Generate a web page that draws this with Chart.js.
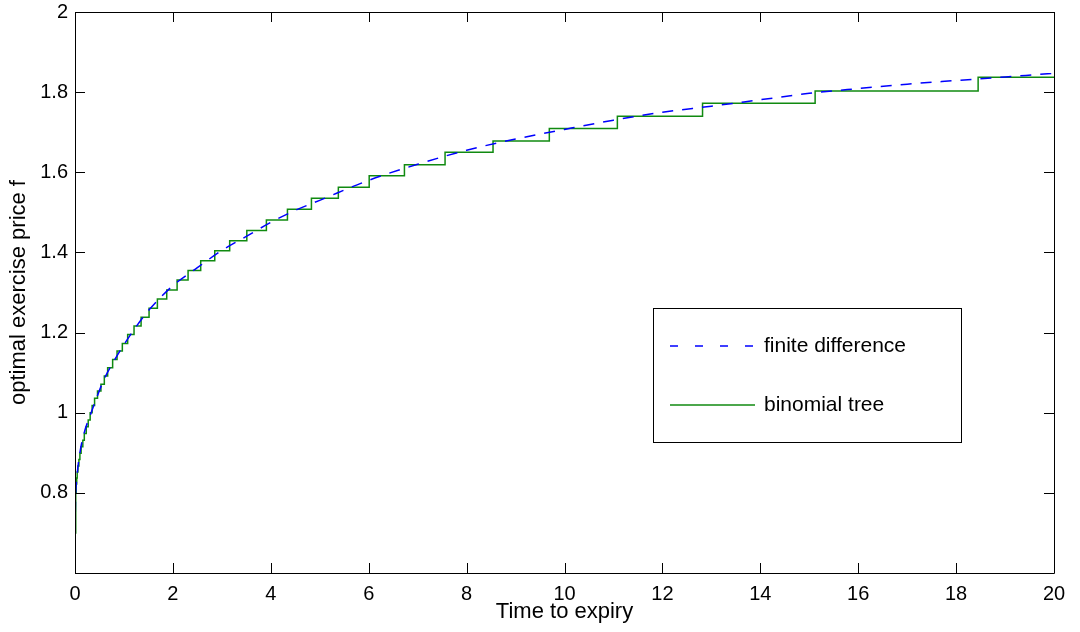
<!DOCTYPE html>
<html>
<head>
<meta charset="utf-8">
<script src="https://cdn.jsdelivr.net/npm/chart.js@4.4.1/dist/chart.umd.min.js"></script>
<style>
  html, body { margin: 0; padding: 0; background: #fff; }
  #wrap { width: 1080px; height: 632px; }
</style>
</head>
<body>
<div id="wrap"><canvas id="chart" width="1080" height="632"></canvas></div>
<script>
// finite difference curve
const fd_t = [0, 0.01, 0.04, 0.1, 0.2, 0.3, 0.45, 0.6, 0.8, 1.0, 1.25, 1.5, 2.0, 2.5, 3.0, 3.5, 4.0, 4.5, 5.0,
  6.0, 7.0, 8.0, 9.0, 10.0, 11.0, 12.0, 13.0, 14.0, 15.0, 16.0, 17.0, 18.0, 19.0, 20.0];
const fd_f = [0.70, 0.78, 0.84, 0.90, 0.955, 0.99, 1.04, 1.085, 1.13, 1.17, 1.215, 1.255, 1.317, 1.362, 1.405, 1.44, 1.475, 1.505, 1.53,
  1.58, 1.62, 1.655, 1.683, 1.707, 1.73, 1.75, 1.765, 1.781, 1.797, 1.809, 1.82, 1.829, 1.838, 1.847];

// binomial tree: time of each step and level after it
const bt_t = [0, 0.015, 0.025, 0.035, 0.045, 0.06, 0.08, 0.10, 0.125, 0.16, 0.19, 0.23, 0.27, 0.31, 0.35, 0.40, 0.46,
  0.53, 0.599, 0.667, 0.769, 0.859, 0.967, 1.076, 1.206, 1.35, 1.513, 1.683, 1.874, 2.086, 2.31, 2.568, 2.855,
  3.16, 3.51, 3.91, 4.34, 4.83, 5.38, 6.01, 6.73, 7.56, 8.54, 9.69, 11.08, 12.82, 15.12, 18.45, 20];
const bt_f = [0.70, 0.80, 0.822, 0.837, 0.852, 0.867, 0.883, 0.899, 0.915, 0.931, 0.948, 0.965, 0.982, 1.0, 1.018, 1.036, 1.054,
  1.071, 1.0915, 1.1125, 1.133, 1.154, 1.173, 1.195, 1.2165, 1.238, 1.261, 1.284, 1.3065, 1.331, 1.355, 1.379, 1.404,
  1.429, 1.455, 1.481, 1.5075, 1.535, 1.5625, 1.5915, 1.619, 1.650, 1.678, 1.709, 1.740, 1.772, 1.803, 1.837, 1.837];

const series_names = ["finite difference", "binomial tree"];

const fontFamily = "'Liberation Sans', Arial, Helvetica, sans-serif";

// box, inward ticks and legend, MATLAB style
const boxPlugin = {
  id: "box",
  afterDraw(chart) {
    const ctx = chart.ctx;
    const a = chart.chartArea;
    const xs = chart.scales.x;
    const ys = chart.scales.y;
    ctx.save();
    ctx.strokeStyle = "#000";
    ctx.lineWidth = 1;
    ctx.beginPath();
    ctx.rect(Math.round(a.left) + 0.5, Math.round(a.top) + 0.5,
      Math.round(a.right - a.left), Math.round(a.bottom - a.top));
    ctx.stroke();
    const tl = 10;
    ctx.beginPath();
    xs.ticks.forEach((t) => {
      const x = Math.round(xs.getPixelForValue(t.value)) + 0.5;
      ctx.moveTo(x, a.bottom);
      ctx.lineTo(x, a.bottom - tl);
      ctx.moveTo(x, a.top);
      ctx.lineTo(x, a.top + tl);
    });
    ys.ticks.forEach((t) => {
      const y = Math.round(ys.getPixelForValue(t.value)) + 0.5;
      ctx.moveTo(a.left, y);
      ctx.lineTo(a.left + tl, y);
      ctx.moveTo(a.right, y);
      ctx.lineTo(a.right - tl, y);
    });
    ctx.stroke();

    // legend
    const lx = 653, ly = 308, lw = 308, lh = 134;
    ctx.fillStyle = "#fff";
    ctx.fillRect(lx, ly, lw, lh);
    ctx.strokeRect(lx + 0.5, ly + 0.5, lw, lh);
    ctx.font = "21px " + fontFamily;
    ctx.textBaseline = "middle";
    const rows = [346, 405];
    chart.data.datasets.forEach((ds, i) => {
      ctx.strokeStyle = ds.borderColor;
      ctx.lineWidth = ds.borderWidth;
      ctx.setLineDash(i === 0 ? [8, 17] : []);
      ctx.beginPath();
      ctx.moveTo(670, rows[i]);
      ctx.lineTo(755, rows[i]);
      ctx.stroke();
      ctx.setLineDash([]);
      ctx.fillStyle = "#000";
      ctx.fillText(ds.label, 764, rows[i]);
    });
    ctx.restore();
  },
};

const ctx = document.getElementById("chart");
new Chart(ctx, {
  type: "line",
  data: {
    datasets: [
      {
        label: series_names[0],
        data: fd_t.map((t, i) => ({ x: t, y: fd_f[i] })),
        borderColor: "#0000ff",
        borderWidth: 1.5,
        borderDash: [11, 9],
        pointRadius: 0,
        cubicInterpolationMode: "monotone",
        fill: false,
      },
      {
        label: series_names[1],
        data: bt_t.map((t, i) => ({ x: t, y: bt_f[i] })),
        borderColor: "#108a10",
        borderWidth: 1.5,
        pointRadius: 0,
        stepped: "before",
        fill: false,
      },
    ],
  },
  options: {
    responsive: false,
    animation: false,
    layout: { padding: { top: 5, right: 26, left: 0, bottom: 0 } },
    plugins: {
      legend: { display: false },
      tooltip: { enabled: false },
    },
    scales: {
      x: {
        type: "linear",
        min: 0,
        max: 20,
        grid: { display: false, drawTicks: false },
        border: { display: false },
        ticks: {
          stepSize: 2,
          padding: 9,
          color: "#000",
          maxRotation: 0,
          font: { family: fontFamily, size: 20 },
        },
        title: {
          display: true,
          text: "Time to expiry",
          color: "#000",
          padding: { top: 7, bottom: 7 },
          font: { family: fontFamily, size: 22 },
        },
        afterFit(scale) {
          scale.height = 59;
        },
      },
      y: {
        min: 0.6,
        max: 2,
        grid: { display: false, drawTicks: false },
        border: { display: false },
        ticks: {
          stepSize: 0.2,
          padding: 7,
          color: "#000",
          font: { family: fontFamily, size: 20, lineHeight: 0.5 },
          callback: (v) => (v < 0.7 ? "" : String(Number(v.toFixed(1)))),
        },
        title: {
          display: true,
          text: "optimal exercise price f",
          color: "#000",
          padding: { top: 6, bottom: 0 },
          font: { family: fontFamily, size: 22 },
        },
        afterFit(scale) {
          scale.width = 75;
        },
      },
    },
  },
  plugins: [boxPlugin],
});
</script>
</body>
</html>
